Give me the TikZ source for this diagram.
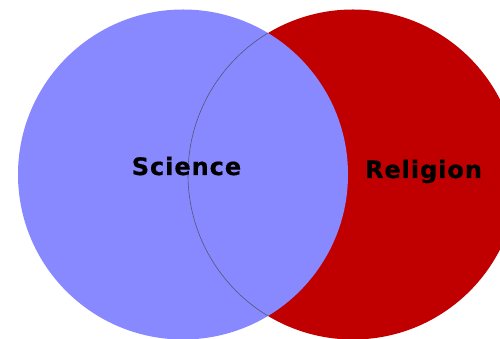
\documentclass[tikz,border=0pt]{standalone}
\usepackage{fontspec}
\setmainfont{DejaVu Sans}
\definecolor{sciblue}{HTML}{8888FF}
\definecolor{relred}{HTML}{C00000}
\definecolor{edgegray}{HTML}{555577}
\begin{document}
\begin{tikzpicture}[x=1pt,y=1pt,
  lbl/.style={font=\fontsize{24}{24}\selectfont\bfseries\addfontfeature{LetterSpace=4,FakeBold=0.6}, text=black, inner sep=0pt, anchor=base}]
\useasboundingbox (0,0) rectangle (500,339);
\clip (0,0) rectangle (500,339);
\fill[white] (0,0) rectangle (500,339);
\coordinate (bc) at (183,164.5);
\coordinate (rc) at (353,164.5);
\fill[relred] (rc) circle (165);
\fill[sciblue] (bc) circle (165);
\begin{scope}
  \clip (bc) circle (165);
  \draw[edgegray, line width=0.6pt] (rc) circle (165);
\end{scope}
\node[lbl] (sci) at (186.5,164) {Science};
\node[lbl] (rel) at (423.5,161) {Religion};
\end{tikzpicture}
\end{document}
